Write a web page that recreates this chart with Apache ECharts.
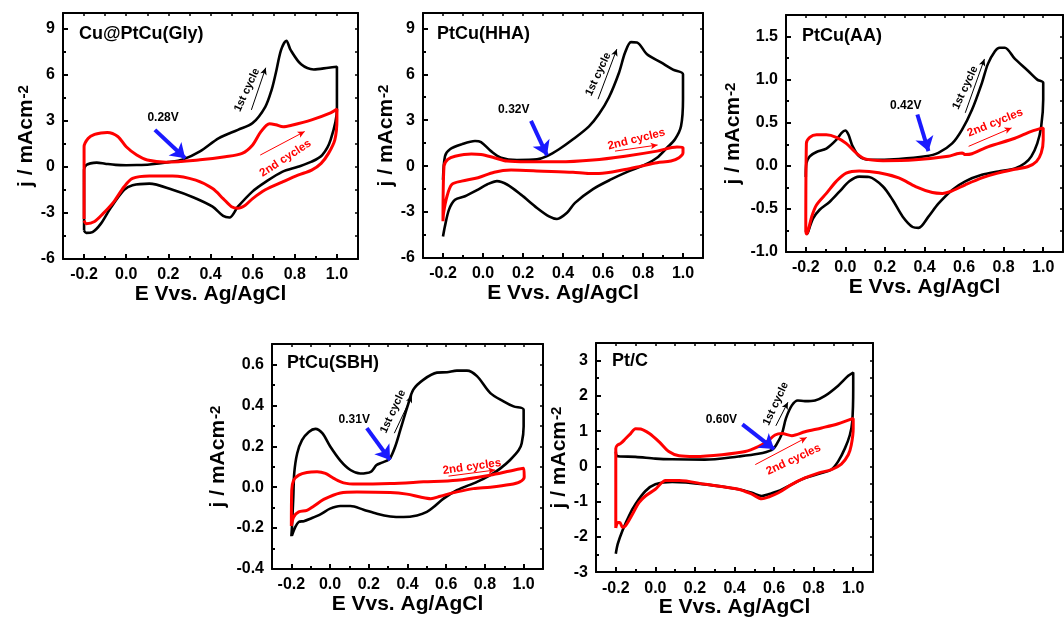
<!DOCTYPE html>
<html>
<head>
<meta charset="utf-8">
<script src="https://cdn.jsdelivr.net/npm/echarts@6/dist/echarts.min.js"></script>
<style>
  html, body { margin: 0; padding: 0; background: #ffffff; }
  #chart { width: 1064px; height: 619px; }
</style>
</head>
<body>
<div id="chart"></div>
<script>
// ---- Potential axis (E vs. Ag/AgCl, V) ----
const potentialTicks = [-0.2, 0.0, 0.2, 0.4, 0.6, 0.8, 1.0];
const potentialMinorTicks = [-0.1, 0.1, 0.3, 0.5, 0.7, 0.9];

// ---- Panel names and onset potentials (V) ----
const panelTitles = ['Cu@PtCu(Gly)', 'PtCu(HHA)', 'PtCu(AA)', 'PtCu(SBH)', 'Pt/C'];
const onsetPotentials = [0.28, 0.32, 0.42, 0.31, 0.60];

// ---- Current density ticks (mA cm^-2) ----
const glyCurrentTicks = [-6, -3, 0, 3, 6, 9];
const glyCurrentMinor = [-4.5, -1.5, 1.5, 4.5, 7.5];
const hhaCurrentTicks = [-6, -3, 0, 3, 6, 9];
const hhaCurrentMinor = [-4.5, -1.5, 1.5, 4.5, 7.5];
const aaCurrentTicks = [-1.0, -0.5, 0.0, 0.5, 1.0, 1.5];
const aaCurrentMinor = [-0.75, -0.25, 0.25, 0.75, 1.25];
const sbhCurrentTicks = [-0.4, -0.2, 0.0, 0.2, 0.4, 0.6];
const sbhCurrentMinor = [-0.3, -0.1, 0.1, 0.3, 0.5];
const ptcCurrentTicks = [-3, -2, -1, 0, 1, 2, 3];
const ptcCurrentMinor = [-2.5, -1.5, -0.5, 0.5, 1.5, 2.5];

// ---- Cyclic voltammograms: [E (V), j (mA cm^-2)] ----
const glyFirstCycle = [[-0.2,-4.15],[-0.2,-0.2],[-0.19,0.1],[-0.17,0.22],[-0.14,0.27],[-0.1,0.2],[-0.05,0.12],[0.0,0.1],[0.05,0.11],[0.11,0.15],[0.2,0.3],[0.27,0.48],[0.35,1.0],[0.44,1.86],[0.53,2.4],[0.6,2.84],[0.66,3.9],[0.69,5.0],[0.71,6.1],[0.735,7.6],[0.76,8.2],[0.78,7.6],[0.83,6.66],[0.89,6.33],[0.96,6.44],[1.0,6.5],[1.0,3.7],[0.97,1.75],[0.93,0.76],[0.88,0.33],[0.815,0.0],[0.74,-0.33],[0.66,-1.0],[0.6,-1.6],[0.53,-2.6],[0.49,-3.3],[0.46,-3.2],[0.41,-2.6],[0.32,-2.0],[0.22,-1.5],[0.11,-1.1],[0.03,-1.2],[-0.01,-1.5],[-0.075,-2.7],[-0.12,-3.7],[-0.16,-4.25],[-0.19,-4.3],[-0.2,-4.15]];
const glySecondCycle = [[-0.2,-3.4],[-0.2,1.3],[-0.18,1.86],[-0.15,2.1],[-0.12,2.2],[-0.09,2.23],[-0.04,1.97],[0.0,1.3],[0.05,0.76],[0.1,0.44],[0.19,0.3],[0.35,0.45],[0.47,0.65],[0.55,0.87],[0.6,1.42],[0.64,2.3],[0.68,2.8],[0.71,2.73],[0.745,2.6],[0.785,2.7],[0.88,3.05],[0.97,3.5],[1.0,3.75],[1.0,3.05],[0.99,1.75],[0.96,0.87],[0.925,0.22],[0.88,-0.22],[0.815,-0.55],[0.74,-1.0],[0.66,-1.5],[0.6,-2.07],[0.565,-2.5],[0.53,-2.7],[0.5,-2.6],[0.46,-2.07],[0.41,-1.42],[0.33,-0.87],[0.22,-0.6],[0.11,-0.6],[0.03,-0.76],[-0.01,-1.3],[-0.06,-2.3],[-0.11,-3.05],[-0.15,-3.56],[-0.19,-3.7],[-0.2,-3.5]];

const hhaFirstCycle = [[-0.2,-0.9],[-0.19,0.65],[-0.165,1.1],[-0.107,1.42],[-0.04,1.64],[-0.01,1.57],[0.04,0.98],[0.09,0.55],[0.17,0.4],[0.27,0.44],[0.32,0.65],[0.38,1.1],[0.45,1.75],[0.53,2.6],[0.58,3.4],[0.63,4.5],[0.68,6.1],[0.71,7.4],[0.74,8.1],[0.77,8.08],[0.82,7.3],[0.89,6.77],[0.95,6.3],[1.0,6.0],[1.0,4.37],[0.99,2.6],[0.96,1.75],[0.92,1.2],[0.87,0.55],[0.81,0.1],[0.73,-0.33],[0.64,-0.87],[0.55,-1.5],[0.46,-2.4],[0.42,-3.05],[0.37,-3.45],[0.33,-3.28],[0.27,-2.73],[0.19,-1.86],[0.12,-1.2],[0.07,-0.98],[0.02,-1.2],[-0.025,-1.53],[-0.09,-1.97],[-0.14,-2.2],[-0.17,-2.84],[-0.19,-3.9],[-0.2,-4.6]];
const hhaSecondCycle = [[-0.2,-3.6],[-0.195,0.0],[-0.176,0.44],[-0.14,0.65],[-0.058,0.8],[-0.01,0.76],[0.056,0.55],[0.12,0.33],[0.22,0.28],[0.38,0.28],[0.55,0.4],[0.71,0.65],[0.87,0.98],[0.97,1.25],[1.0,1.2],[1.0,0.87],[0.98,0.55],[0.94,0.33],[0.87,0.22],[0.79,0.0],[0.71,-0.22],[0.58,-0.48],[0.53,-0.48],[0.45,-0.4],[0.3,-0.33],[0.14,-0.26],[0.056,-0.4],[-0.025,-0.76],[-0.107,-0.98],[-0.156,-1.2],[-0.18,-1.97],[-0.197,-3.05],[-0.2,-3.6]];

const aaFirstCycle = [[-0.2,-0.13],[-0.197,0.03],[-0.18,0.11],[-0.146,0.16],[-0.096,0.2],[-0.046,0.3],[-0.02,0.38],[0.0,0.41],[0.016,0.36],[0.037,0.225],[0.07,0.11],[0.12,0.07],[0.27,0.08],[0.405,0.11],[0.47,0.15],[0.54,0.26],[0.59,0.42],[0.64,0.65],[0.69,0.96],[0.72,1.18],[0.756,1.33],[0.78,1.37],[0.806,1.37],[0.857,1.24],[0.924,1.1],[0.97,1.0],[1.0,0.965],[1.0,0.77],[0.99,0.46],[0.97,0.26],[0.94,0.11],[0.907,0.03],[0.857,-0.03],[0.773,-0.066],[0.69,-0.105],[0.606,-0.18],[0.54,-0.28],[0.47,-0.44],[0.42,-0.59],[0.37,-0.72],[0.34,-0.71],[0.29,-0.59],[0.24,-0.4],[0.19,-0.24],[0.12,-0.13],[0.07,-0.125],[0.02,-0.18],[-0.03,-0.3],[-0.08,-0.42],[-0.13,-0.51],[-0.163,-0.61],[-0.18,-0.71],[-0.193,-0.79],[-0.2,-0.75]];
const aaSecondCycle = [[-0.2,-0.75],[-0.197,0.26],[-0.18,0.33],[-0.146,0.36],[-0.096,0.36],[-0.046,0.33],[0.004,0.26],[0.054,0.15],[0.1,0.08],[0.19,0.06],[0.355,0.07],[0.52,0.11],[0.564,0.14],[0.59,0.15],[0.606,0.13],[0.64,0.14],[0.72,0.22],[0.857,0.32],[0.94,0.4],[1.0,0.44],[1.0,0.3],[0.99,0.15],[0.966,0.05],[0.924,-0.008],[0.857,-0.04],[0.77,-0.085],[0.69,-0.14],[0.606,-0.22],[0.54,-0.29],[0.49,-0.32],[0.44,-0.31],[0.355,-0.24],[0.27,-0.14],[0.17,-0.08],[0.07,-0.06],[0.004,-0.085],[-0.046,-0.18],[-0.096,-0.32],[-0.146,-0.455],[-0.17,-0.59],[-0.188,-0.75],[-0.197,-0.79],[-0.2,-0.75]];

const sbhFirstCycle = [[-0.2,-0.24],[-0.197,-0.195],[-0.19,-0.05],[-0.185,0.07],[-0.17,0.165],[-0.145,0.23],[-0.11,0.27],[-0.076,0.285],[-0.04,0.264],[0.0,0.2],[0.053,0.13],[0.105,0.084],[0.156,0.067],[0.21,0.075],[0.24,0.108],[0.268,0.12],[0.294,0.13],[0.31,0.141],[0.337,0.2],[0.363,0.28],[0.4,0.395],[0.43,0.477],[0.483,0.526],[0.552,0.56],[0.604,0.562],[0.655,0.57],[0.707,0.57],[0.759,0.543],[0.828,0.46],[0.896,0.42],[0.948,0.395],[1.0,0.379],[1.0,0.297],[0.99,0.215],[0.974,0.18],[0.93,0.133],[0.88,0.092],[0.828,0.059],[0.759,0.026],[0.655,-0.015],[0.586,-0.056],[0.535,-0.097],[0.5,-0.121],[0.449,-0.138],[0.38,-0.146],[0.311,-0.143],[0.242,-0.13],[0.173,-0.11],[0.105,-0.092],[0.053,-0.092],[0.0,-0.105],[-0.05,-0.133],[-0.102,-0.154],[-0.136,-0.166],[-0.162,-0.17],[-0.18,-0.195],[-0.197,-0.236]];
const sbhSecondCycle = [[-0.2,-0.19],[-0.198,-0.015],[-0.188,0.034],[-0.162,0.059],[-0.12,0.072],[-0.067,0.075],[-0.024,0.067],[0.019,0.043],[0.07,0.021],[0.139,0.015],[0.311,0.018],[0.483,0.026],[0.655,0.034],[0.828,0.059],[0.93,0.079],[1.0,0.092],[1.003,0.05],[0.98,0.026],[0.93,0.013],[0.828,0.0],[0.74,-0.007],[0.655,-0.023],[0.57,-0.044],[0.52,-0.056],[0.466,-0.048],[0.397,-0.034],[0.311,-0.026],[0.139,-0.023],[0.053,-0.028],[-0.033,-0.06],[-0.085,-0.093],[-0.12,-0.113],[-0.162,-0.121],[-0.188,-0.146],[-0.2,-0.19]];

const ptcFirstCycle = [[-0.2,0.42],[-0.195,0.3],[-0.175,0.28],[-0.1,0.27],[0.0,0.22],[0.085,0.2],[0.25,0.19],[0.42,0.28],[0.52,0.355],[0.59,0.47],[0.61,0.6],[0.64,0.93],[0.66,1.36],[0.69,1.73],[0.72,1.87],[0.756,1.85],[0.807,1.87],[0.857,2.0],[0.924,2.29],[0.975,2.57],[1.0,2.66],[1.0,2.2],[0.995,1.26],[0.983,0.89],[0.958,0.51],[0.924,0.14],[0.89,-0.09],[0.84,-0.19],[0.756,-0.33],[0.69,-0.51],[0.622,-0.7],[0.572,-0.79],[0.538,-0.84],[0.488,-0.75],[0.42,-0.65],[0.253,-0.51],[0.085,-0.44],[0.0,-0.51],[-0.05,-0.7],[-0.1,-1.07],[-0.133,-1.4],[-0.166,-1.82],[-0.19,-2.2],[-0.2,-2.48]];
const ptcSecondCycle = [[-0.2,-1.75],[-0.2,0.51],[-0.192,0.6],[-0.175,0.65],[-0.15,0.79],[-0.125,0.93],[-0.1,1.07],[-0.074,1.06],[-0.03,0.93],[0.018,0.7],[0.068,0.42],[0.12,0.3],[0.2,0.28],[0.337,0.33],[0.454,0.42],[0.52,0.56],[0.563,0.7],[0.605,0.89],[0.64,0.93],[0.69,0.87],[0.756,0.98],[0.84,1.09],[0.924,1.21],[1.0,1.36],[1.0,1.07],[0.99,0.6],[0.975,0.33],[0.94,0.065],[0.89,-0.09],[0.823,-0.19],[0.756,-0.33],[0.69,-0.51],[0.622,-0.75],[0.572,-0.87],[0.538,-0.92],[0.488,-0.79],[0.42,-0.65],[0.253,-0.51],[0.12,-0.4],[0.052,-0.4],[0.0,-0.65],[-0.05,-0.84],[-0.083,-1.03],[-0.116,-1.36],[-0.15,-1.68],[-0.166,-1.73],[-0.18,-1.59],[-0.19,-1.59],[-0.2,-1.75]];

// ---- Layout and styling ----
const FONT = '"Liberation Sans", Arial, Helvetica, sans-serif';
const BLACK = '#000000';
const RED = '#ff0000';
const BLUE = '#1a1aff';

const panels = [
  { first: glyFirstCycle, second: glySecondCycle, ticks: glyCurrentTicks, minor: glyCurrentMinor, range: [-6, 10], decimals: 0,
    box: { left: 63, top: 13, width: 295, height: 246 }, titlePos: [79, 25], xGap: 19, yGap: 25,
    notes: { onsetTail: [0.136, 2.4], onsetTipY: 0.55, onsetText: [0.175, 3.17],
             firstText: [0.573, 5.0], firstArrow: [[0.594, 3.7], [0.662, 6.44]],
             secondText: [0.756, 0.55], secondAngle: 33, secondArrow: [[0.636, 0.76], [0.847, 2.29]] } },
  { first: hhaFirstCycle, second: hhaSecondCycle, ticks: hhaCurrentTicks, minor: hhaCurrentMinor, range: [-6, 10], decimals: 0,
    box: { left: 423, top: 13, width: 280, height: 245 }, titlePos: [437, 25], xGap: 20, yGap: 25,
    notes: { onsetTail: [0.24, 2.95], onsetTipY: 0.7, onsetText: [0.154, 3.7],
             firstText: [0.576, 6.0], firstArrow: [[0.575, 4.37], [0.669, 7.64]],
             secondText: [0.767, 1.75], secondAngle: 14, secondArrow: [[0.66, 0.98], [0.873, 1.38]] } },
  { first: aaFirstCycle, second: aaSecondCycle, ticks: aaCurrentTicks, minor: aaCurrentMinor, range: [-1, 1.75], decimals: 1,
    box: { left: 786, top: 15, width: 277, height: 237 }, titlePos: [802, 27], xGap: 23, yGap: 42,
    notes: { onsetTail: [0.364, 0.595], onsetTipY: 0.17, onsetText: [0.305, 0.70],
             firstText: [0.606, 0.906], firstArrow: [[0.606, 0.615], [0.703, 1.24]],
             secondText: [0.757, 0.5], secondAngle: 22, secondArrow: [[0.623, 0.226], [0.84, 0.44]] } },
  { first: sbhFirstCycle, second: sbhSecondCycle, ticks: sbhCurrentTicks, minor: sbhCurrentMinor, range: [-0.4, 0.7], decimals: 1,
    box: { left: 272, top: 344, width: 271, height: 225 }, titlePos: [287, 354], xGap: 21, yGap: 43,
    notes: { onsetTail: [0.19, 0.289], onsetTipY: 0.133, onsetText: [0.125, 0.33],
             firstText: [0.325, 0.37], firstArrow: [[0.332, 0.264], [0.423, 0.447]],
             secondText: [0.733, 0.1], secondAngle: 8, secondArrow: [[0.612, 0.054], [0.853, 0.084]] } },
  { first: ptcFirstCycle, second: ptcSecondCycle, ticks: ptcCurrentTicks, minor: ptcCurrentMinor, range: [-3, 3.5], decimals: 0,
    box: { left: 596, top: 343, width: 277, height: 232 }, titlePos: [612, 352], xGap: 22, yGap: 22,
    notes: { onsetTail: [0.44, 1.19], onsetTipY: 0.49, onsetText: [0.334, 1.33],
             firstText: [0.609, 1.78], firstArrow: [[0.609, 1.15], [0.67, 1.82]],
             secondText: [0.698, 0.19], secondAngle: 25, secondArrow: [[0.505, 0.05], [0.765, 0.82]] } }
];

const E_MIN = -0.3, E_MAX = 1.1;

const grids = [], xAxes = [], yAxes = [], series = [], titles = [];

function frameLine(show) {
  return { show: show, onZero: false, lineStyle: { color: BLACK, width: 2 } };
}

panels.forEach(function (p, gi) {
  grids.push(Object.assign({ containLabel: false }, p.box));
  titles.push({ text: panelTitles[gi], left: p.titlePos[0], top: p.titlePos[1], padding: 0,
    textStyle: { fontFamily: FONT, fontWeight: 'bold', fontSize: 18, color: BLACK } });

  // bottom axis: frame, major ticks, labels, name
  xAxes.push({
    gridIndex: gi, type: 'value', position: 'bottom', min: E_MIN, max: E_MAX,
    axisLine: frameLine(true), splitLine: { show: false },
    axisTick: { show: true, inside: true, length: 5, lineStyle: { width: 2, color: BLACK }, customValues: potentialTicks },
    axisLabel: { show: true, customValues: potentialTicks, margin: 8, color: BLACK, fontFamily: FONT, fontWeight: 'bold', fontSize: 16,
      formatter: function (v) { return v.toFixed(1); } },
    name: 'E Vvs. Ag/AgCl', nameLocation: 'middle', nameGap: p.xGap,
    nameTextStyle: { fontFamily: FONT, fontWeight: 'bold', fontSize: 21, color: BLACK }
  });
  // bottom axis: minor ticks
  xAxes.push({
    gridIndex: gi, type: 'value', position: 'bottom', min: E_MIN, max: E_MAX,
    axisLine: frameLine(false), splitLine: { show: false }, axisLabel: { show: false },
    axisTick: { show: true, inside: true, length: 3, lineStyle: { width: 2, color: BLACK }, customValues: potentialMinorTicks }
  });
  // top mirror axis
  xAxes.push({
    gridIndex: gi, type: 'value', position: 'top', min: E_MIN, max: E_MAX,
    axisLine: frameLine(true), splitLine: { show: false }, axisLabel: { show: false },
    axisTick: { show: true, inside: true, length: 3, lineStyle: { width: 1.5, color: BLACK },
      customValues: potentialTicks.concat(potentialMinorTicks) }
  });

  const fmt = function (v) { return p.decimals ? v.toFixed(p.decimals) : String(Math.round(v)); };
  yAxes.push({
    gridIndex: gi, type: 'value', position: 'left', min: p.range[0], max: p.range[1],
    axisLine: frameLine(true), splitLine: { show: false },
    axisTick: { show: true, inside: true, length: 5, lineStyle: { width: 2, color: BLACK }, customValues: p.ticks },
    axisLabel: { show: true, customValues: p.ticks, margin: 8, color: BLACK, fontFamily: FONT, fontWeight: 'bold', fontSize: 16, formatter: fmt },
    name: 'j / mAcm{sup|-2}', nameLocation: 'middle', nameRotate: 90, nameGap: p.yGap,
    nameTextStyle: { fontFamily: FONT, fontWeight: 'bold', fontSize: 21, color: BLACK,
      rich: { sup: { fontFamily: FONT, fontWeight: 'bold', fontSize: 15, color: BLACK, verticalAlign: 'top', padding: [0, 0, 6, 1] } } }
  });
  yAxes.push({
    gridIndex: gi, type: 'value', position: 'left', min: p.range[0], max: p.range[1],
    axisLine: frameLine(false), splitLine: { show: false }, axisLabel: { show: false },
    axisTick: { show: true, inside: true, length: 3, lineStyle: { width: 2, color: BLACK }, customValues: p.minor }
  });
  yAxes.push({
    gridIndex: gi, type: 'value', position: 'right', min: p.range[0], max: p.range[1],
    axisLine: frameLine(true), splitLine: { show: false }, axisLabel: { show: false },
    axisTick: { show: true, inside: true, length: 3, lineStyle: { width: 1.5, color: BLACK },
      customValues: p.ticks.concat(p.minor) }
  });

  const n = p.notes;
  const onset = onsetPotentials[gi];
  const arrow = function (from, to, color, width, size) {
    return [
      { coord: from, symbol: 'none', lineStyle: { color: color, width: width, type: 'solid' } },
      { coord: to, symbol: 'arrow', symbolSize: size }
    ];
  };

  series.push({
    type: 'line', name: panelTitles[gi] + ' 1st cycle', xAxisIndex: gi * 3, yAxisIndex: gi * 3,
    data: p.first, showSymbol: false, smooth: 0.3, z: 3,
    lineStyle: { color: BLACK, width: 2.6 }, itemStyle: { color: BLACK },
    markLine: {
      silent: true, animation: false, label: { show: false }, symbol: ['none', 'arrow'],
      data: [
        arrow(n.onsetTail, [onset, n.onsetTipY], BLUE, 4, [14, 14]),
        arrow(n.firstArrow[0], n.firstArrow[1], BLACK, 1, [5, 7]),
        arrow(n.secondArrow[0], n.secondArrow[1], RED, 1, [5, 7])
      ]
    }
  });
  series.push({
    type: 'line', name: panelTitles[gi] + ' 2nd cycle', xAxisIndex: gi * 3, yAxisIndex: gi * 3,
    data: p.second, showSymbol: false, smooth: 0.3, z: 4,
    lineStyle: { color: RED, width: 3 }, itemStyle: { color: RED }
  });
});

const chart = echarts.init(document.getElementById('chart'), null, { renderer: 'canvas' });
chart.setOption({
  animation: false,
  backgroundColor: '#ffffff',
  title: titles,
  grid: grids,
  xAxis: xAxes,
  yAxis: yAxes,
  series: series
});

// Text annotations placed through each panel's own coordinate system
const graphics = [];
panels.forEach(function (p, gi) {
  const n = p.notes;
  const toPx = function (pt) { return chart.convertToPixel({ seriesIndex: gi * 2 }, pt); };
  const addText = function (pt, text, size, color, angle) {
    const px = toPx(pt);
    graphics.push({
      type: 'text', x: px[0], y: px[1], rotation: angle * Math.PI / 180, z: 10,
      style: { text: text, fill: color, font: 'bold ' + size + 'px ' + FONT, align: 'center', verticalAlign: 'middle' }
    });
  };
  addText(n.onsetText, onsetPotentials[gi].toFixed(2) + 'V', 12, BLACK, 0);
  addText(n.firstText, '1st cycle', 11, BLACK, 65);
  addText(n.secondText, '2nd cycles', 11.5, RED, n.secondAngle);
});
chart.setOption({ graphic: graphics });
</script>
</body>
</html>
